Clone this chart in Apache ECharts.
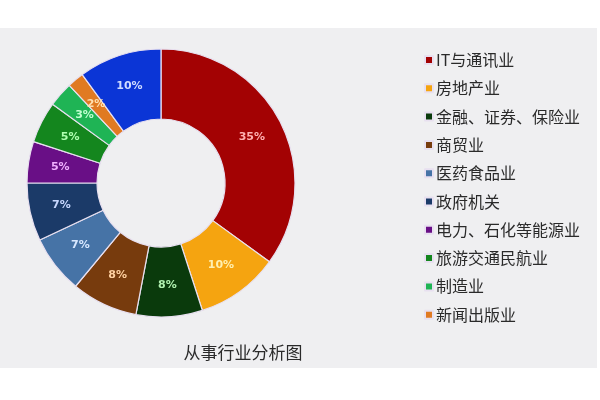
<!DOCTYPE html>
<html><head><meta charset="utf-8">
<script src="https://cdn.jsdelivr.net/npm/echarts@6/dist/echarts.min.js"></script>
<style>html,body{margin:0;padding:0;background:#fff}#c{width:600px;height:400px}</style>
</head><body><div id="c"></div>
<script>
const categories = ['IT与通讯业','房地产业','金融、证券、保险业','商贸业','医药食品业','政府机关','电力、石化等能源业','旅游交通民航业','制造业','新闻出版业','其他'];
const values = [35,10,8,8,7,7,5,5,3,2,10];
const legendNames = categories.slice(0,10);
const sliceColors = ['#a30203','#f5a410','#0a3a0c','#773b0d','#4673a6','#1b3a68','#690f86','#14861e','#1fb455','#e07a22','#0b35d6'];
const labelColors = ['#ffb0b0','#fff0b0','#b0f0b0','#ffd0a0','#d8e8ff','#c8d8ff','#f0b0ff','#b0ffb0','#c0ffd0','#ffe0b0','#d0dcff'];

const chart = echarts.init(document.getElementById('c'));
chart.setOption({
  backgroundColor: '#ffffff',
  graphic: [{type:'rect', z:-10, shape:{x:0,y:28,width:597,height:340}, style:{fill:'#efeff1'}}],
  title: {text:'从事行业分析图', left:238, textAlign:'center', top:339,
    textStyle:{fontSize:17, fontWeight:'normal', color:'#2a2a2a', fontFamily:'Noto Sans CJK SC'}},
  legend: {orient:'vertical', left:419, top:47, itemWidth:8, itemHeight:8, itemGap:12.3,
    icon:'rect', data: legendNames,
    textStyle:{fontSize:16, color:'#2a2a2a', fontFamily:'Noto Sans CJK SC', padding:[0,0,0,-2]}},
  series: [{
    type:'pie', center:[161,183], radius:[64,134], startAngle:90, clockwise:true,
    avoidLabelOverlap:false, silent:true,
    itemStyle:{borderColor:'#e8e0f0', borderWidth:1.2},
    label:{show:true, position:'inside', formatter:'{d}%', fontSize:11, fontWeight:'bold', fontFamily:'DejaVu Sans'},
    labelLine:{show:false},
    data: categories.map((n,i)=>({name:n, value:values[i],
      itemStyle:{color:sliceColors[i]}, label:{color:labelColors[i]}}))
  }]
});
</script></body></html>
